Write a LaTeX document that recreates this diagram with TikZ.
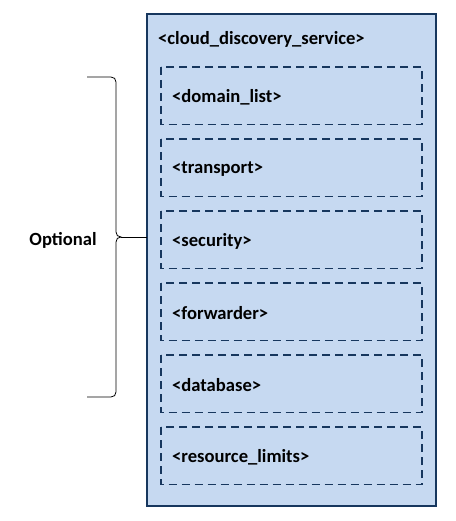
\documentclass[tikz,border=0pt]{standalone}
\usepackage{fontspec}
\setmainfont{Carlito}
\definecolor{boxfill}{HTML}{C6D9F1}
\definecolor{boxline}{HTML}{17375E}
\tikzset{
  outerbox/.style={draw=boxline, fill=boxfill, line width=1.6pt},
  optbox/.style={draw=boxline, line width=1.6pt, dash pattern=on 8pt off 5pt},
  tag/.style={font=\fontsize{18.6}{21}\selectfont\bfseries, anchor=west, inner sep=0pt},
}
\begin{document}
\begin{tikzpicture}[x=1pt,y=-1pt]
    \useasboundingbox (0,0) rectangle (455,521);
    \draw[outerbox] (147,14) rectangle (436,506);
    \coordinate (outerw) at (147,237);
    \node[tag] (cds) at (158,39) {<cloud\_discovery\_service>};
    \foreach \nm/\lbl [count=\i from 0] in {dlist/domain\_list, trans/transport, sec/security, fwd/forwarder, db/database, rlim/resource\_limits} {
        \draw[optbox] (161,67+72*\i) rectangle (422,124.5+72*\i);
        \node[tag] (\nm) at (172,97.5+72*\i) {<\lbl>};
    }
    % brace over the optional parts
    \coordinate (tip) at (121,237);
    \draw[line width=0.8pt] (87,77) -- (111,77) .. controls (114,77) and (116,79) .. (116,82)
        -- (116,232) .. controls (116,235) and (118,237) .. (tip)
        .. controls (118,237) and (116,239) .. (116,242) -- (116,392)
        .. controls (116,395) and (114,397) .. (111,397) -- (87,397);
    \draw[line width=0.8pt] (tip) -- (outerw);
    \node[tag, anchor=center] (opt) at (63,240) {Optional};
\end{tikzpicture}
\end{document}
